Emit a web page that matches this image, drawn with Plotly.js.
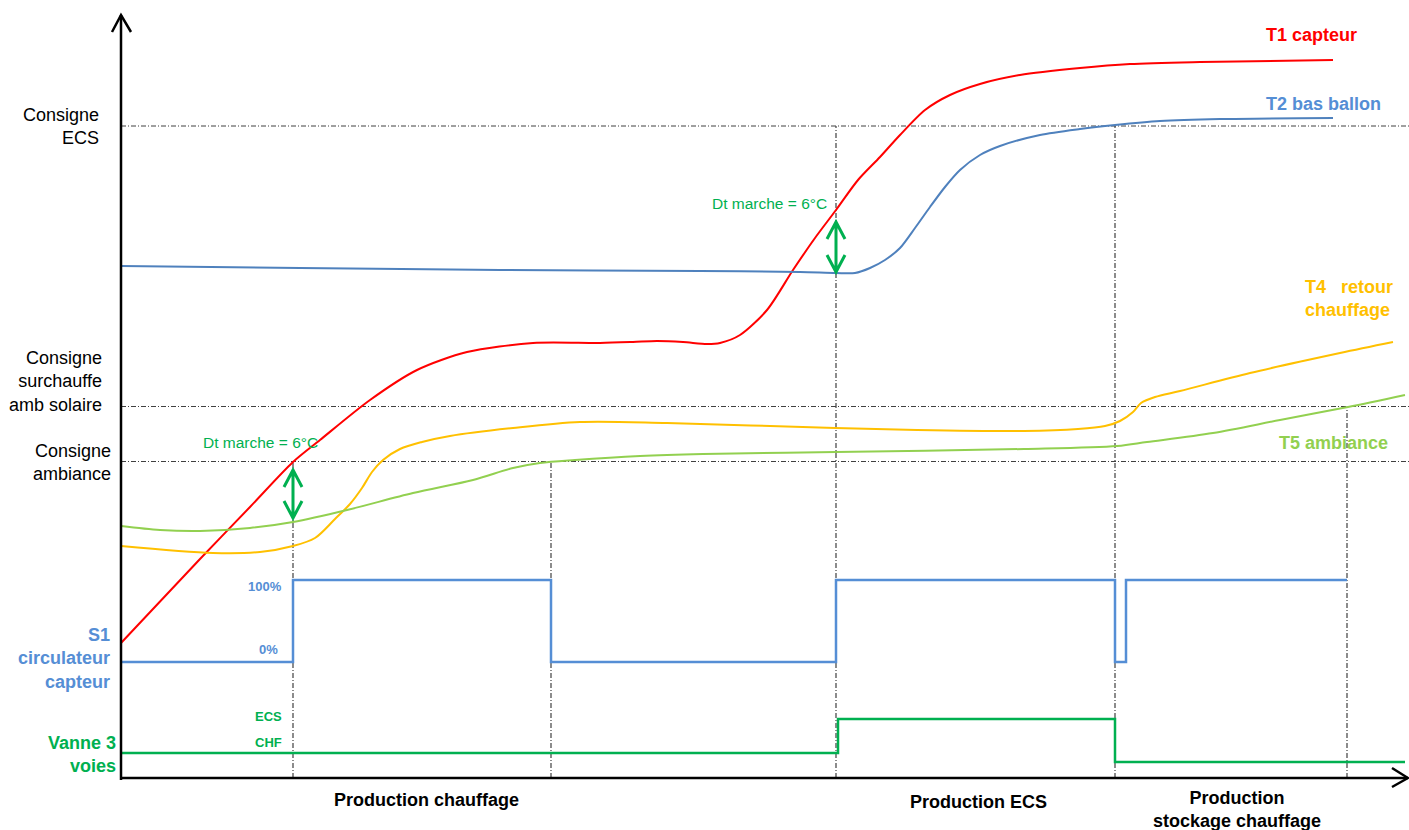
<!DOCTYPE html>
<html><head><meta charset="utf-8">
<script src="https://cdn.plot.ly/plotly-3.0.1.min.js"></script>
<style>html,body{margin:0;padding:0;background:#fff;}#chart{width:1409px;height:830px;}</style>
</head><body><div id="chart"></div>
<script>
// ---- Data (time on x, temperature-like arbitrary units on y) ----
const t1Time  = [121,200,250,293,320,370,417,467,533,600,633,657,683,707,720,740,767,793,815,836,858,880,900,925,950,980,1020,1080,1130,1200,1333];
const t1Value = [187,271,323,368,390,430,460,478,487,487,488,489,488,486,487,495,520,560,592,620,650,673,695,720,735,746,755,762,766,768,770];

const t2Time  = [121,300,500,700,800,836,855,870,885,900,915,930,945,960,980,1000,1040,1080,1115,1160,1220,1333];
const t2Value = [564,562,560,559,558,557,557,562,570,582,602,623,643,660,675,684,695,701,705,709,711,712];

const t4Time  = [121,213,260,293,315,335,350,362,372,383,400,422,450,513,580,667,835,917,1024,1078,1105,1120,1133,1141,1155,1180,1250,1340,1393];
const t4Value = [284,277,278,284,292,311,326,342,358,370,381,388,394,402,408,407,402,400,399,401,404,409,418,427,433,439,457,477,488];

const t5Time  = [121,160,200,250,293,347,413,473,513,540,575,640,703,836,1024,1117,1147,1213,1280,1348,1405];
const t5Value = [304,300,299,302,308,320,337,350,362,367,370,374,376,378,381,384,388,397,410,423,435];

const s1Time  = [121,293,551,836,1115,1126,1347];
const s1State = [0,100,0,100,0,100,100];   // % circulator

const vanneTime  = [121,838,1115,1405];
const vanneLevel = [77,111,68,68];

const consigneLabels = ["Consigne<br>ECS","Consigne<br>surchauffe<br>amb solaire","Consigne<br>ambiance"];
const consigneValues = [704,423.5,368.5];

const phaseTimes  = [293,551,836,1115,1347];
const phaseTops   = [368.5,368.5,704,704,423.5];
const phaseLabels = ["Production chauffage","Production ECS","Production<br>stockage chauffage"];
const phaseLabelX = [426,978,1237];

// ---- geometry helpers ----
const X0 = 121, Y0 = 52;   // origin of drawn axes
const S1_BASE = 168, S1_SPAN = 82;
const s1Y = s1State.map(s => S1_BASE + s/100*S1_SPAN);

const FONT = "Liberation Sans, Arial, sans-serif";
const DASH = "5px,2px,1px,2px";

const traces = [
  {x:t1Time, y:t1Value, mode:'lines', line:{color:'#FF0000', width:2, shape:'spline', smoothing:0.8}},
  {x:t2Time, y:t2Value, mode:'lines', line:{color:'#4F81BD', width:2, shape:'spline', smoothing:0.8}},
  {x:t4Time, y:t4Value, mode:'lines', line:{color:'#FFC000', width:2, shape:'spline', smoothing:0.9}},
  {x:t5Time, y:t5Value, mode:'lines', line:{color:'#92D050', width:2, shape:'spline', smoothing:0.9}},
  {x:s1Time, y:s1Y, mode:'lines', line:{color:'#558ED5', width:2.5, shape:'hv'}},
  {x:vanneTime, y:vanneLevel, mode:'lines', line:{color:'#00B050', width:2.5, shape:'hv'}}
];

const shapes = [];
// consigne horizontal dash-dot lines
consigneValues.forEach(v => shapes.push({type:'line', x0:X0, x1:1409, y0:v, y1:v, line:{color:'#404040', width:1, dash:DASH}, layer:'below'}));
// phase vertical dash-dot lines
phaseTimes.forEach((t,i) => shapes.push({type:'line', x0:t, x1:t, y0:Y0, y1:phaseTops[i], line:{color:'#404040', width:1.2, dash:DASH}, layer:'below'}));
// axes
shapes.push({type:'line', x0:X0, x1:X0, y0:Y0-2, y1:815, line:{color:'#000', width:2.5}});
shapes.push({type:'path', path:`M${X0-9},798 L${X0},815 L${X0+10},798`, line:{color:'#000', width:2.5}});
shapes.push({type:'line', x0:X0-1, x1:1408, y0:Y0, y1:Y0, line:{color:'#000', width:2.5}});
shapes.push({type:'path', path:`M1392,${Y0+10} L1408,${Y0} L1392,${Y0-9}`, line:{color:'#000', width:2.5}});
// Dt arrows (double headed, open heads)
function dArrow(x, yTop, yBot){
  return {type:'path', path:`M${x},${yTop} L${x},${yBot} M${x-9},${yTop-17} L${x},${yTop} L${x+9},${yTop-17} M${x-9},${yBot+17} L${x},${yBot} L${x+9},${yBot+17}`,
          line:{color:'#00B050', width:3}};
}
shapes.push(dArrow(293, 360, 312));
shapes.push(dArrow(836, 608, 558));

const ann = [];
function txt(text, x, y, opts){
  ann.push(Object.assign({text, x, y, xref:'x', yref:'y', showarrow:false, xanchor:'right', yanchor:'middle', align:'right',
    font:{family:FONT, size:18, color:'#000'}}, opts||{}));
}
txt(consigneLabels[0], 101, consigneValues[0]);
txt(consigneLabels[1], 104, 449);
txt(consigneLabels[2], 113, 368);
txt("<b>S1<br>circulateur<br>capteur</b>", 112, 172, {font:{family:FONT, size:18, color:'#558ED5'}});
txt("<b>100%</b>", 284, 244, {font:{family:FONT, size:13, color:'#558ED5'}});
txt("<b>0%</b>", 280, 181, {font:{family:FONT, size:13, color:'#558ED5'}});
txt("<b>ECS</b>", 284, 114, {font:{family:FONT, size:13, color:'#00B050'}});
txt("<b>CHF</b>", 284, 88, {font:{family:FONT, size:13, color:'#00B050'}});
txt("<b>Vanne 3<br>voies</b>", 118, 76, {font:{family:FONT, size:18, color:'#00B050'}});
txt("Dt marche = 6°C", 260, 388, {xanchor:'center', align:'center', font:{family:FONT, size:15.5, color:'#00B050'}});
txt("Dt marche = 6°C", 769, 627, {xanchor:'center', align:'center', font:{family:FONT, size:15.5, color:'#00B050'}});
txt("<b>T1 capteur</b>", 1264, 795, {xanchor:'left', align:'left', font:{family:FONT, size:18, color:'#FF0000'}});
txt("<b>T2 bas ballon</b>", 1264, 726, {xanchor:'left', align:'left', font:{family:FONT, size:18, color:'#558ED5'}});
txt("<b>T4\u00a0\u00a0\u00a0retour<br>chauffage</b>", 1303, 532, {xanchor:'left', align:'left', font:{family:FONT, size:18, color:'#FFC000'}});
txt("<b>T5 ambiance</b>", 1277, 387, {xanchor:'left', align:'left', font:{family:FONT, size:18, color:'#92D050'}});
txt("<b>"+phaseLabels[0]+"</b>", phaseLabelX[0], 30, {xanchor:'center', align:'center', font:{family:FONT, size:18, color:'#000'}});
txt("<b>"+phaseLabels[1]+"</b>", phaseLabelX[1], 28, {xanchor:'center', align:'center', font:{family:FONT, size:18, color:'#000'}});
txt("<b>"+phaseLabels[2]+"</b>", phaseLabelX[2], 21, {xanchor:'center', align:'center', font:{family:FONT, size:18, color:'#000'}});

const layout = {
  width:1409, height:830, margin:{l:0,r:0,t:0,b:0},
  paper_bgcolor:'#fff', plot_bgcolor:'#fff', showlegend:false, hovermode:false,
  xaxis:{range:[0,1409], visible:false, fixedrange:true},
  yaxis:{range:[0,830], visible:false, fixedrange:true},
  shapes, annotations:ann
};
Plotly.newPlot('chart', traces, layout, {staticPlot:true, displayModeBar:false});
</script></body></html>
